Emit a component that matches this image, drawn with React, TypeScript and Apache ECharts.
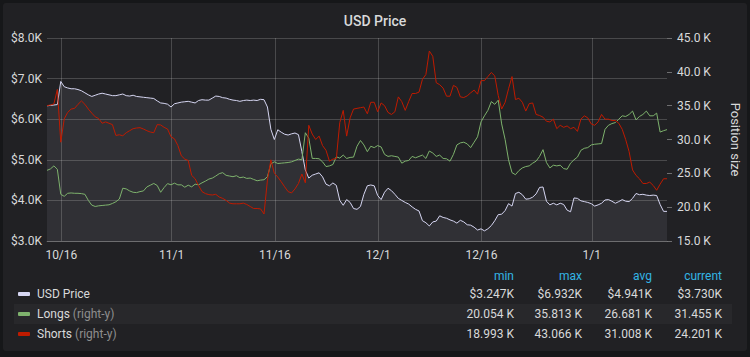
import React, { useEffect, useRef } from 'react';
import * as echarts from 'echarts';

// 12-hour samples starting 2018-10-13 22:00 UTC (last 90 days view)
const START_TIME = Date.UTC(2018, 9, 13, 22, 0, 0);
const STEP_MS = 12 * 3600 * 1000;

const xTickDates = ['2018-10-16', '2018-11-01', '2018-11-16', '2018-12-01', '2018-12-16', '2019-01-01'];
const xTickLabels = ['10/16', '11/1', '11/16', '12/1', '12/16', '1/1'];

// USD price in $K (left axis)
const usdPrice = [
  6.33, 6.34, 6.35, 6.36, 6.93, 6.80, 6.77, 6.75, 6.75, 6.73,
  6.70, 6.65, 6.60, 6.56, 6.59, 6.62, 6.64, 6.62, 6.60, 6.58,
  6.58, 6.60, 6.62, 6.58, 6.57, 6.59, 6.56, 6.55, 6.54, 6.53,
  6.52, 6.51, 6.45, 6.40, 6.39, 6.37, 6.30, 6.38, 6.40, 6.42,
  6.43, 6.44, 6.42, 6.40, 6.46, 6.48, 6.47, 6.47, 6.52, 6.57,
  6.56, 6.53, 6.52, 6.49, 6.47, 6.46, 6.44, 6.46, 6.47, 6.46,
  6.47, 6.46, 6.49, 6.48, 6.30, 5.75, 5.50, 5.74, 5.68, 5.63,
  5.61, 5.64, 5.66, 5.62, 5.20, 4.75, 4.55, 4.62, 4.65, 4.68,
  4.58, 4.40, 4.36, 4.43, 4.37, 4.00, 3.88, 4.02, 3.95, 3.80,
  3.78, 3.85, 4.15, 4.36, 4.38, 4.36, 4.12, 4.02, 4.20, 4.30,
  4.24, 4.15, 4.05, 4.00, 3.95, 3.91, 3.84, 3.78, 3.74, 3.50,
  3.45, 3.37, 3.47, 3.49, 3.62, 3.58, 3.56, 3.52, 3.49, 3.44,
  3.51, 3.47, 3.40, 3.39, 3.34, 3.27, 3.30, 3.25, 3.30, 3.38,
  3.50, 3.65, 3.66, 3.75, 3.92, 3.86, 4.17, 4.20, 4.14, 4.03,
  4.04, 4.08, 4.16, 4.32, 4.33, 3.98, 3.89, 3.93, 3.89, 3.93,
  3.90, 3.76, 3.72, 4.06, 4.05, 3.99, 3.97, 3.95, 3.92, 3.86,
  3.89, 3.93, 4.01, 4.02, 3.98, 3.93, 3.97, 4.02, 3.98, 3.97,
  4.05, 4.17, 4.14, 4.15, 4.13, 4.12, 4.13, 4.12, 3.90, 3.73,
  3.73,
];

// Longs position size in K (right axis)
const longs = [
  25.44, 25.65, 26.10, 25.60, 21.90, 21.60, 22.05, 22.10, 22.05, 22.05,
  22.00, 21.90, 21.00, 20.30, 20.10, 20.20, 20.25, 20.30, 20.35, 20.55,
  20.80, 21.20, 22.80, 22.70, 22.40, 22.20, 22.15, 22.30, 22.40, 22.99,
  23.25, 23.50, 23.20, 22.20, 22.90, 23.48, 23.30, 23.55, 23.30, 23.30,
  22.95, 23.25, 23.00, 23.40, 23.30, 23.60, 23.85, 24.15, 24.30, 24.60,
  24.95, 25.10, 24.70, 24.60, 24.50, 24.65, 24.35, 24.45, 24.25, 24.30,
  24.10, 23.90, 24.00, 24.05, 24.50, 26.40, 26.70, 26.45, 26.50, 26.55,
  26.60, 26.70, 26.90, 27.10, 27.00, 31.00, 30.20, 27.20, 27.20, 27.15,
  26.70, 26.00, 26.10, 26.30, 27.45, 27.25, 27.70, 27.20, 27.35, 27.40,
  29.00, 29.85, 29.20, 28.20, 29.00, 28.80, 29.10, 28.90, 27.80, 27.50,
  27.60, 27.50, 27.40, 26.50, 26.80, 26.90, 27.50, 27.30, 27.50, 27.70,
  27.20, 28.30, 28.00, 27.50, 27.70, 27.20, 27.15, 26.80, 27.80, 29.20,
  29.50, 29.60, 29.35, 28.80, 29.60, 30.40, 32.60, 33.50, 34.30, 35.60,
  35.20, 35.81, 32.30, 30.00, 27.00, 25.10, 24.80, 25.40, 25.80, 26.00,
  26.10, 26.50, 26.80, 27.50, 28.50, 26.60, 25.80, 26.20, 26.10, 26.20,
  25.70, 25.60, 26.50, 27.00, 27.40, 28.40, 28.70, 28.80, 29.20, 29.30,
  29.35, 29.40, 31.50, 32.10, 32.35, 32.50, 33.00, 33.50, 33.40, 33.70,
  34.20, 32.90, 33.40, 33.70, 34.20, 33.50, 33.50, 33.90, 31.10, 31.30,
  31.46,
];

// Shorts position size in K (right axis)
const shorts = [
  35.00, 35.10, 35.25, 37.40, 29.60, 33.04, 34.00, 34.50, 34.60, 35.20,
  35.70, 35.20, 34.50, 33.90, 33.35, 33.10, 32.40, 32.60, 32.40, 32.20,
  30.60, 30.70, 30.55, 31.00, 31.30, 31.60, 31.70, 31.75, 31.55, 31.30,
  31.10, 31.00, 32.20, 32.15, 31.80, 31.55, 30.40, 30.10, 29.10, 27.60,
  27.10, 26.90, 24.70, 24.20, 23.20, 22.30, 22.00, 21.85, 21.80, 21.90,
  21.50, 21.30, 21.00, 20.60, 20.50, 20.50, 20.50, 20.60, 20.40, 20.10,
  19.80, 19.80, 19.75, 18.99, 24.00, 27.00, 25.00, 24.45, 23.75, 23.00,
  22.30, 22.10, 22.70, 23.50, 24.90, 23.60, 32.10, 30.80, 30.00, 30.50,
  29.10, 28.40, 26.80, 27.10, 27.20, 32.50, 34.30, 30.50, 33.20, 34.50,
  34.60, 34.70, 34.80, 33.80, 35.50, 35.50, 34.10, 35.40, 35.00, 34.00,
  33.70, 34.10, 36.30, 35.60, 34.30, 35.60, 36.80, 36.80, 37.00, 38.90,
  39.60, 43.07, 42.30, 38.40, 38.10, 37.60, 36.40, 36.40, 38.00, 37.70,
  36.30, 36.20, 36.45, 36.90, 37.30, 36.70, 38.70, 38.70, 39.30, 39.90,
  39.40, 36.50, 34.50, 35.50, 37.50, 39.30, 35.90, 36.10, 35.50, 34.20,
  35.30, 35.40, 33.70, 33.55, 33.30, 32.70, 32.60, 33.00, 31.60, 32.10,
  31.80, 32.00, 31.60, 31.80, 31.20, 33.00, 33.50, 33.20, 32.30, 32.10,
  32.60, 33.70, 33.00, 33.00, 32.80, 32.80, 32.40, 31.50, 30.00, 28.20,
  25.50, 24.70, 24.20, 23.50, 23.50, 23.70, 23.20, 22.50, 23.40, 24.20,
  24.20,
];

const seriesNames = ['USD Price', 'Longs', 'Shorts'];
const seriesSuffix = ['', '(right-y)', '(right-y)'];
const seriesColors = ['#d6d6f2', '#7eb26d', '#bf1b00'];

const statHeaders = ['min', 'max', 'avg', 'current'];
const statMin = ['$3.247K', '20.054 K', '18.993 K'];
const statMax = ['$6.932K', '35.813 K', '43.066 K'];
const statAvg = ['$4.941K', '26.681 K', '31.008 K'];
const statCurrent = ['$3.730K', '31.455 K', '24.201 K'];

const FONT = 'Roboto, "Helvetica Neue", Arial, sans-serif';
const TEXT = '#d8d9da';

export default function App() {
  const ref = useRef<HTMLDivElement>(null);

  useEffect(() => {
    document.body.style.margin = '0';
    document.body.style.background = '#161719';
    if (!ref.current) return;
    const chart = echarts.init(ref.current, undefined, { renderer: 'svg' });

    const toPairs = (arr: number[]) => arr.map((v, i) => [START_TIME + i * STEP_MS, v]);
    const tickTimes = xTickDates.map((d) => Date.parse(d));
    const endTime = START_TIME + (usdPrice.length - 1) * STEP_MS;

    const colRight = [514, 582, 652, 722];
    const rowY = [294, 314, 334];
    const headerY = 276;
    const statCols = [statMin, statMax, statAvg, statCurrent];

    const graphic: any[] = [
      {
        type: 'rect',
        shape: { x: 14, y: 304, width: 718, height: 20 },
        style: { fill: '#28282b' },
        z: 0,
      },
    ];
    statHeaders.forEach((h, c) => {
      graphic.push({
        type: 'text',
        x: colRight[c],
        y: headerY,
        style: {
          text: h,
          fill: '#33b5e5',
          fontSize: 12,
          fontFamily: FONT,
          align: 'right',
          verticalAlign: 'middle',
          textAlign: 'right',
          textVerticalAlign: 'middle',
        },
      });
    });
    seriesNames.forEach((name, r) => {
      graphic.push({
        type: 'rect',
        shape: { x: 18, y: rowY[r] - 2, width: 12, height: 4, r: 1 },
        style: { fill: seriesColors[r] },
      });
      graphic.push({
        type: 'text',
        x: 37,
        y: rowY[r],
        style: {
          text: seriesSuffix[r] ? `{n|${name}} {s|${seriesSuffix[r]}}` : `{n|${name}}`,
          rich: {
            n: { fill: TEXT, color: TEXT, fontSize: 12, fontFamily: FONT },
            s: { fill: '#8e8e8e', color: '#8e8e8e', fontSize: 12, fontFamily: FONT },
          },
          fill: TEXT,
          fontSize: 12,
          fontFamily: FONT,
          align: 'left',
          verticalAlign: 'middle',
          textAlign: 'left',
          textVerticalAlign: 'middle',
        },
      });
      statCols.forEach((col, c) => {
        graphic.push({
          type: 'text',
          x: colRight[c],
          y: rowY[r],
          style: {
            text: col[r],
            fill: TEXT,
            fontSize: 12,
            fontFamily: FONT,
            align: 'right',
            verticalAlign: 'middle',
            textAlign: 'right',
            textVerticalAlign: 'middle',
          },
        });
      });
    });

    chart.setOption({
      animation: false,
      backgroundColor: 'transparent',
      textStyle: { fontFamily: FONT },
      title: {
        text: 'USD Price',
        left: 'center',
        top: 9,
        textStyle: { color: TEXT, fontSize: 14, fontWeight: 500, fontFamily: FONT },
      },
      grid: { left: 47, right: 77, top: 38, bottom: 116 },
      xAxis: {
        type: 'value',
        min: START_TIME,
        max: endTime,
        axisLine: { show: true, lineStyle: { color: 'rgba(255,255,255,0.2)' } },
        axisTick: { show: false, customValues: tickTimes },
        splitLine: { show: true, lineStyle: { color: 'rgba(255,255,255,0.18)', width: 1 } },
        axisLabel: {
          customValues: tickTimes,
          color: TEXT,
          fontSize: 12,
          fontFamily: FONT,
          margin: 8,
          showMinLabel: true,
          showMaxLabel: true,
          formatter: (v: number) => {
            const idx = tickTimes.indexOf(v);
            return idx >= 0 ? xTickLabels[idx] : '';
          },
        },
      },
      yAxis: [
        {
          type: 'value',
          position: 'left',
          min: 3,
          max: 8,
          interval: 1,
          axisLine: { show: false },
          axisTick: { show: false },
          splitLine: { show: true, lineStyle: { color: 'rgba(255,255,255,0.18)', width: 1 } },
          axisLabel: {
            color: TEXT,
            fontSize: 12,
            fontFamily: FONT,
            margin: 5,
            formatter: (v: number) => '$' + v.toFixed(1) + 'K',
          },
        },
        {
          type: 'value',
          position: 'right',
          min: 15,
          max: 45,
          interval: 5,
          name: 'Position size',
          nameLocation: 'middle',
          nameRotate: -90,
          nameGap: 62,
          nameTextStyle: { color: TEXT, fontSize: 13, fontFamily: FONT },
          axisLine: { show: false },
          axisTick: { show: true, length: 5, lineStyle: { color: 'rgba(255,255,255,0.35)' } },
          splitLine: { show: false },
          axisLabel: {
            color: TEXT,
            fontSize: 12,
            fontFamily: FONT,
            margin: 10,
            formatter: (v: number) => v.toFixed(1) + ' K',
          },
        },
      ],
      series: [
        {
          name: seriesNames[0],
          type: 'line',
          yAxisIndex: 0,
          data: toPairs(usdPrice),
          showSymbol: false,
          lineStyle: { width: 1, color: seriesColors[0] },
          itemStyle: { color: seriesColors[0] },
          areaStyle: { color: 'rgba(216,217,242,0.12)', origin: 'start' },
          z: 2,
        },
        {
          name: seriesNames[1],
          type: 'line',
          yAxisIndex: 1,
          data: toPairs(longs),
          showSymbol: false,
          lineStyle: { width: 1, color: seriesColors[1] },
          itemStyle: { color: seriesColors[1] },
          z: 3,
        },
        {
          name: seriesNames[2],
          type: 'line',
          yAxisIndex: 1,
          data: toPairs(shorts),
          showSymbol: false,
          lineStyle: { width: 1, color: seriesColors[2] },
          itemStyle: { color: seriesColors[2] },
          z: 4,
        },
      ],
      graphic,
    });

    return () => chart.dispose();
  }, []);

  return (
    <div style={{ position: 'relative', width: 750, height: 357, background: '#161719', overflow: 'hidden' }}>
      <div
        style={{
          position: 'absolute',
          left: 3,
          top: 3,
          width: 744,
          height: 348,
          background: '#212124',
          borderRadius: 3,
        }}
      />
      <div ref={ref} style={{ position: 'absolute', left: 0, top: 0, width: 750, height: 357 }} />
    </div>
  );
}
